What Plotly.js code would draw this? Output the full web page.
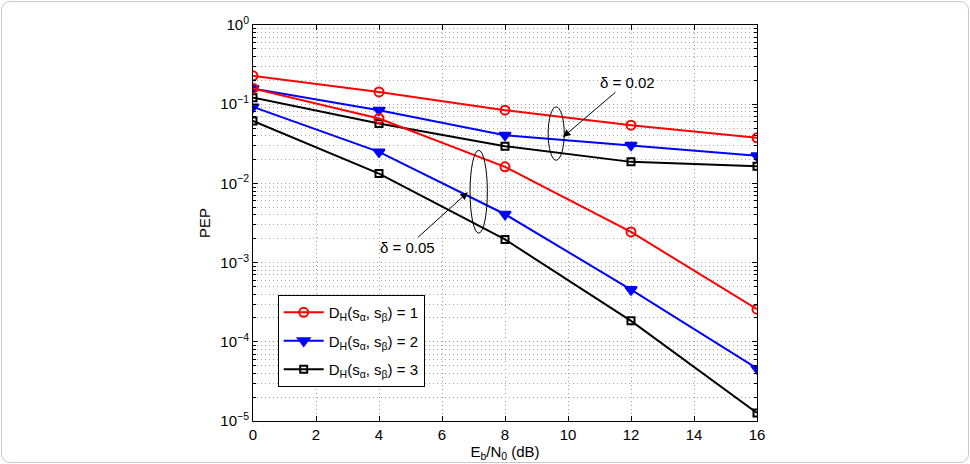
<!DOCTYPE html>
<html>
<head>
<meta charset="utf-8">
<script src="https://cdn.plot.ly/plotly-3.0.1.min.js"></script>
<style>
html,body{margin:0;padding:0;background:#fff;}
#frame{position:absolute;left:1px;top:1px;width:966px;height:460px;border:1px solid #c8c8c8;border-radius:9px;}
#plot{position:absolute;left:0;top:0;width:970px;height:464px;}
</style>
</head>
<body>
<div id="frame"></div>
<div id="plot"></div>
<script>
// Eb/N0 (dB)
const ebn0 = [0, 4, 8, 12, 16];
// delta = 0.02
const d002_DH1 = [0.228, 0.143, 0.084, 0.0543, 0.0376];
const d002_DH2 = [0.158, 0.084, 0.0406, 0.0304, 0.0223];
const d002_DH3 = [0.121, 0.057, 0.0295, 0.0187, 0.0165];
// delta = 0.05
const d005_DH1 = [0.158, 0.066, 0.0162, 0.00244, 0.000258];
const d005_DH2 = [0.0925, 0.025, 0.00408, 0.000457, 0.000046];
const d005_DH3 = [0.0615, 0.0133, 0.00196, 0.000184, 0.0000126];

function sb(t) { return '<sub>' + t + '</sub>'; }
function sp(t) { return '<sup>' + t + '</sup>'; }

const seriesNames = [
  'D' + sb('H') + '(s' + sb('α') + ', s' + sb('β') + ') = 1',
  'D' + sb('H') + '(s' + sb('α') + ', s' + sb('β') + ') = 2',
  'D' + sb('H') + '(s' + sb('α') + ', s' + sb('β') + ') = 3'
];
const yTickVals = [1e-5, 1e-4, 1e-3, 1e-2, 1e-1, 1];
const yTickText = ['10' + sp('−5'), '10' + sp('−4'), '10' + sp('−3'), '10' + sp('−2'), '10' + sp('−1'), '10' + sp('0')];

const styles = [
  {color: '#ff0000', symbol: 'circle-open', size: 9},
  {color: '#0000ff', symbol: 'triangle-down', size: 10},
  {color: '#000000', symbol: 'square-open', size: 7}
];

function mk(y, i, show) {
  const s = styles[i];
  return {
    x: ebn0, y: y, type: 'scatter', mode: 'lines+markers',
    name: seriesNames[i], legendgroup: 'g' + i, showlegend: show,
    line: {color: s.color, width: 2},
    marker: {symbol: s.symbol, size: s.size, color: s.color, line: {color: s.color, width: 2}}
  };
}

const data = [
  mk(d002_DH1, 0, true), mk(d002_DH2, 1, true), mk(d002_DH3, 2, true),
  mk(d005_DH1, 0, false), mk(d005_DH2, 1, false), mk(d005_DH3, 2, false)
];

const minorVals = [];
for (let e = -5; e < 0; e++) for (let m = 2; m <= 9; m++) minorVals.push(m * Math.pow(10, e));

const fam = '"Liberation Sans", Arial, Helvetica, sans-serif';
const font = {family: fam, size: 15, color: '#000'};

const layout = {
  width: 970, height: 464,
  margin: {l: 253, r: 213, t: 25, b: 43},
  paper_bgcolor: 'rgba(0,0,0,0)', plot_bgcolor: '#fff',
  font: font,
  showlegend: true,
  legend: {
    x: 0.049, y: 0.318, xanchor: 'left', yanchor: 'top',
    bgcolor: '#fff', bordercolor: '#000', borderwidth: 1,
    font: {family: fam, size: 15, color: '#000'},
    tracegroupgap: 6, itemwidth: 40
  },
  xaxis: {
    range: [0, 16], tickmode: 'linear', tick0: 0, dtick: 2,
    ticks: 'inside', ticklen: 5, tickcolor: '#000',
    showline: true, linecolor: '#000', linewidth: 1, mirror: 'ticks',
    showgrid: true, gridcolor: '#a0a0a0', griddash: '1px,3px', gridwidth: 1,
    zeroline: false,
    title: {text: 'E' + sb('b') + '/N' + sb('0') + ' (dB)', font: font, standoff: 4},
    tickfont: font
  },
  yaxis: {
    type: 'log', range: [-5, 0],
    tickmode: 'array', tickvals: yTickVals, ticktext: yTickText,
    ticks: 'inside', ticklen: 5, tickcolor: '#000',
    showline: true, linecolor: '#000', linewidth: 1, mirror: 'ticks',
    showgrid: true, gridcolor: '#a0a0a0', griddash: '1px,3px', gridwidth: 1,
    zeroline: false,
    minor: {tickmode: 'array', tickvals: minorVals, ticks: 'inside', ticklen: 3, tickcolor: '#000',
            showgrid: true, gridcolor: '#a8a8a8', griddash: '1px,3px', gridwidth: 1},
    title: {text: 'PEP', font: font, standoff: 6},
    tickfont: font
  },
  shapes: [
    {type: 'circle', xref: 'x', yref: 'y', x0: 9.37, x1: 9.88, y0: 0.0196, y1: 0.0925,
     line: {color: '#000', width: 1}},
    {type: 'circle', xref: 'x', yref: 'y', x0: 6.89, x1: 7.44, y0: 0.00235, y1: 0.0262,
     line: {color: '#000', width: 1}}
  ],
  annotations: [
    {x: 9.84, y: -1.415, xref: 'x', yref: 'y', text: 'δ = 0.02',
     showarrow: true, axref: 'x', ayref: 'y', ax: 11.88, ay: -0.722,
     arrowhead: 2, arrowsize: 1.5, arrowwidth: 1, arrowcolor: '#000', font: font},
    {x: 6.82, y: -2.111, xref: 'x', yref: 'y', text: 'δ = 0.05',
     showarrow: true, axref: 'x', ayref: 'y', ax: 4.89, ay: -2.806,
     arrowhead: 2, arrowsize: 1.5, arrowwidth: 1, arrowcolor: '#000', font: font}
  ]
};

Plotly.newPlot('plot', data, layout, {displayModeBar: false, staticPlot: true});
</script>
</body>
</html>
